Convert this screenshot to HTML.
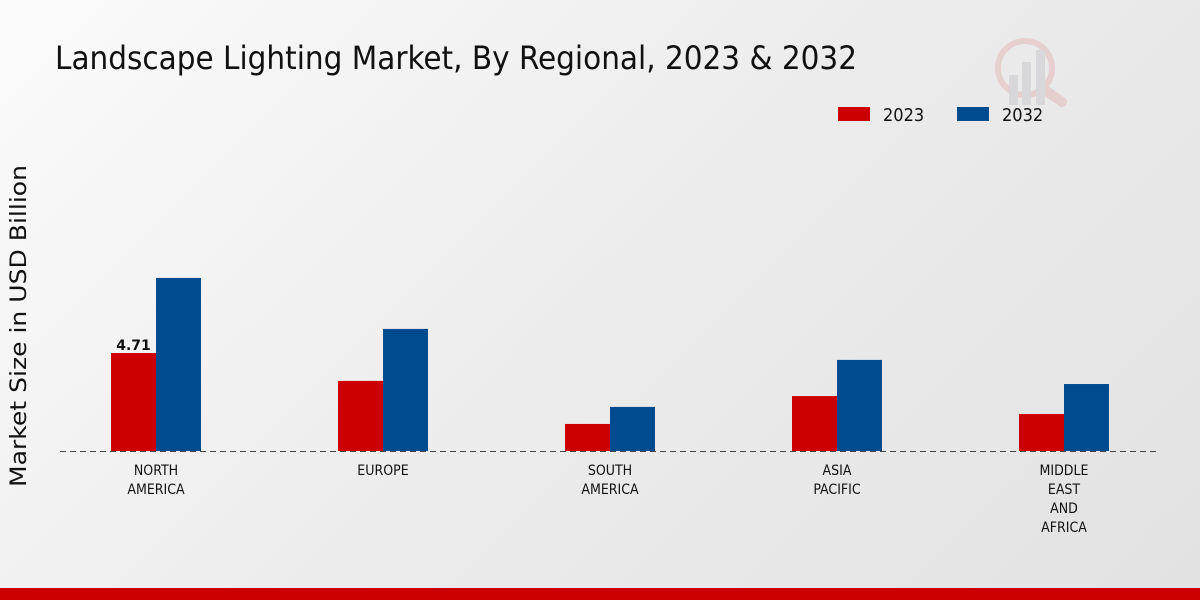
<!DOCTYPE html>
<html><head><meta charset="utf-8"><style>
html,body{margin:0;padding:0;}
body{width:1200px;height:600px;overflow:hidden;background:linear-gradient(135deg,#fbfbfb 0%,#ececec 50%,#e2e2e2 100%);font-family:"DejaVu Sans Condensed","DejaVu Sans","Liberation Sans",sans-serif;}
svg{display:block}
</style></head><body>
<svg id="chart" width="1200" height="600" xmlns="http://www.w3.org/2000/svg">
<text x="55" y="69" font-size="32" fill="#111" font-family="DejaVu Sans Condensed, DejaVu Sans, sans-serif" textLength="802" lengthAdjust="spacingAndGlyphs">Landscape Lighting Market, By Regional, 2023 &amp; 2032</text>
<g opacity="0.5">
<circle cx="1025" cy="68" r="27" fill="none" stroke="#e3b5b5" stroke-width="6"/>
<line x1="1045" y1="90" x2="1062" y2="102" stroke="#e3b5b5" stroke-width="10" stroke-linecap="round"/>
<rect x="1009" y="75" width="9" height="30" fill="#c8c8cc"/><rect x="1022" y="62" width="9" height="43" fill="#c8c8cc"/><rect x="1036" y="50" width="9" height="55" fill="#c8c8cc"/>
</g>
<g>
<rect x="838" y="107" width="32" height="14" fill="#cc0000"/>
<text x="883" y="121" font-size="18" fill="#111">2023</text>
<rect x="957" y="107" width="32" height="14" fill="#004a8f"/>
<text x="1002" y="121" font-size="18" fill="#111">2032</text>
</g>
<text transform="translate(26,326) rotate(-90)" text-anchor="middle" font-size="22" fill="#111" font-family="DejaVu Sans, sans-serif" textLength="322" lengthAdjust="spacingAndGlyphs">Market Size in USD Billion</text>
<g id="bars"></g>
<line x1="60" y1="451.5" x2="1160" y2="451.5" stroke="#444" stroke-dasharray="6,4" stroke-width="1"/>
<rect x="0" y="588" width="1200" height="12" fill="#cc0000"/>
</svg>
<script>
const categories=[["NORTH","AMERICA"],["EUROPE"],["SOUTH","AMERICA"],["ASIA","PACIFIC"],["MIDDLE","EAST","AND","AFRICA"]];
const values2023=[4.71,3.37,1.3,2.64,1.78];
const values2032=[8.32,5.87,2.12,4.38,3.22];
const shownLabels=["4.71",null,null,null,null];
const NS="http://www.w3.org/2000/svg";
const g=document.getElementById('bars');
const baseY=451, pxPerUnit=20.8, x0=156, step=227, bw=45;
const yScale=v=>baseY-v*pxPerUnit;
const xCenter=i=>x0+i*step;
function mk(tag,attrs){const e=document.createElementNS(NS,tag);for(const k in attrs)e.setAttribute(k,attrs[k]);g.appendChild(e);return e;}
categories.forEach((c,i)=>{
  const cx=xCenter(i);
  const r=mk('rect',{x:cx-bw,y:yScale(values2023[i]),width:bw,height:baseY-yScale(values2023[i]),fill:'#cc0000'});
  
  
  const b=mk('rect',{x:cx,y:yScale(values2032[i]),width:bw,height:baseY-yScale(values2032[i]),fill:'#004a8f'});
  
  
  if(shownLabels[i]){
    const t=mk('text',{x:cx-bw/2,y:yScale(values2023[i])-3,'text-anchor':'middle','font-size':'14','font-weight':'bold',fill:'#111','font-family':'DejaVu Sans, sans-serif'});
    t.textContent=shownLabels[i];
    
    
  }
  c.forEach((line,j)=>{
    const t=mk('text',{x:cx,y:475+j*19,'text-anchor':'middle','font-size':'14',fill:'#111'});
    t.textContent=line;
    
    
  });
});
</script>
</body></html>
